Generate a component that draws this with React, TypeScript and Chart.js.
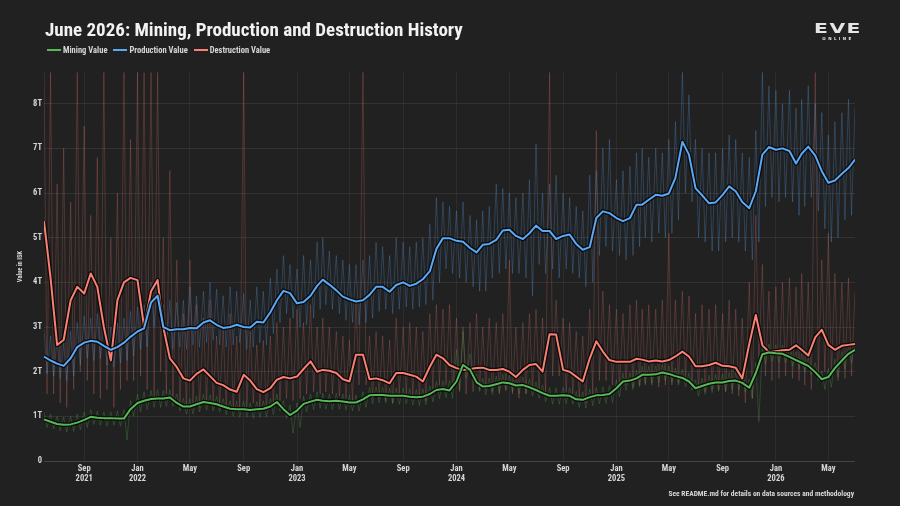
import React, { useEffect, useRef } from "react";
import { Chart, registerables } from "chart.js";

Chart.register(...registerables);

const BG = "#212121";
const FONT = "'Liberation Sans Narrow', 'Roboto Condensed', 'DejaVu Sans Condensed', Roboto, sans-serif";

const MINING_COLOR = "#58b858";
const PRODUCTION_COLOR = "#5ba8f5";
const DESTRUCTION_COLOR = "#fa8072";

const seriesLabels = ["Mining Value", "Production Value", "Destruction Value"];

// x axis ticks
const xTickDates = [
  "2021-09-01", "2022-01-01", "2022-05-01", "2022-09-01", "2023-01-01", "2023-05-01", "2023-09-01",
  "2024-01-01", "2024-05-01", "2024-09-01", "2025-01-01", "2025-05-01", "2025-09-01", "2026-01-01", "2026-05-01",
];
const xTickLabels: (string | string[])[] = [
  ["Sep", "2021"], ["Jan", "2022"], "May", "Sep", ["Jan", "2023"], "May", "Sep",
  ["Jan", "2024"], "May", "Sep", ["Jan", "2025"], "May", "Sep", ["Jan", "2026"], "May",
];
const yTickValues = [0, 1, 2, 3, 4, 5, 6, 7, 8];
const yTickLabels = ["0", "1T", "2T", "3T", "4T", "5T", "6T", "7T", "8T"];

const rangeStart = "2021-06-01";
const rangeEnd = "2026-07-01";

// Sampled on the 1st and 16th of every month, Jun 2021 .. Jul 2026 (values in trillion ISK)
const miningAvg = [
  0.93, 0.88, 0.83, 0.81, 0.82, 0.86, 0.92, 0.99, 0.97, 0.96,
  0.96, 0.95, 0.95, 1.16, 1.3, 1.35, 1.39, 1.4, 1.4, 1.42,
  1.3, 1.22, 1.22, 1.27, 1.32, 1.3, 1.27, 1.22, 1.17, 1.16,
  1.16, 1.14, 1.16, 1.17, 1.22, 1.32, 1.16, 1.03, 1.13, 1.28,
  1.33, 1.37, 1.35, 1.34, 1.35, 1.33, 1.31, 1.31, 1.38, 1.47,
  1.48, 1.48, 1.46, 1.46, 1.46, 1.44, 1.43, 1.44, 1.5, 1.59,
  1.61, 1.58, 1.78, 2.15, 2.04, 1.76, 1.67, 1.68, 1.72, 1.76,
  1.74, 1.69, 1.7, 1.65, 1.59, 1.52, 1.46, 1.46, 1.47, 1.46,
  1.38, 1.37, 1.43, 1.47, 1.48, 1.5, 1.63, 1.78, 1.8, 1.85,
  1.93, 1.93, 1.94, 1.98, 1.95, 1.9, 1.86, 1.78, 1.63, 1.68,
  1.73, 1.76, 1.76, 1.79, 1.8, 1.75, 1.64, 1.97, 2.39, 2.43,
  2.41, 2.4, 2.33, 2.26, 2.2, 2.13, 1.99, 1.83, 1.88, 2.08,
  2.25, 2.4, 2.49,
];
const miningHigh = [
  1.1, 1.05, 1.0, 0.98, 1.0, 1.05, 1.1, 1.15, 1.12, 1.1,
  1.1, 1.12, 1.15, 1.35, 1.5, 1.55, 1.58, 1.6, 1.58, 1.6,
  1.5, 1.4, 1.4, 1.45, 1.5, 1.48, 1.45, 1.4, 1.35, 1.34,
  1.34, 1.3, 1.33, 1.35, 1.4, 1.5, 1.35, 1.25, 1.3, 1.45,
  1.5, 1.55, 1.52, 1.5, 1.52, 1.5, 1.48, 1.48, 1.55, 1.65,
  1.66, 1.65, 1.63, 1.64, 1.63, 1.62, 1.6, 1.62, 1.68, 1.78,
  1.8, 1.8, 2.5, 2.9, 2.4, 1.95, 1.85, 1.86, 1.9, 1.94,
  1.92, 1.87, 1.88, 1.83, 1.77, 1.7, 1.64, 1.64, 1.65, 1.64,
  1.56, 1.55, 1.61, 1.65, 1.66, 1.68, 1.82, 1.97, 1.98, 2.03,
  2.12, 2.12, 2.13, 2.16, 2.13, 2.08, 2.05, 1.97, 1.82, 1.86,
  1.92, 1.94, 1.95, 1.98, 1.98, 1.93, 1.83, 2.2, 2.6, 2.62,
  2.6, 2.6, 2.52, 2.45, 2.4, 2.32, 2.2, 2.02, 2.07, 2.28,
  2.45, 2.6, 2.68,
];
const miningLow = [
  0.75, 0.72, 0.68, 0.65, 0.66, 0.7, 0.75, 0.82, 0.8, 0.78,
  0.8, 0.78, 0.47, 1.0, 1.1, 1.15, 1.2, 1.2, 1.22, 1.22,
  1.12, 1.05, 1.05, 1.1, 1.14, 1.12, 1.1, 1.04, 1.0, 0.98,
  0.98, 0.96, 0.98, 0.99, 1.04, 1.12, 0.95, 0.62, 0.75, 1.1,
  1.15, 1.18, 1.16, 1.15, 1.16, 1.14, 1.12, 1.12, 1.2, 1.28,
  1.3, 1.3, 1.28, 1.27, 1.28, 1.25, 1.24, 1.26, 1.32, 1.4,
  1.42, 1.4, 1.6, 1.85, 1.8, 1.56, 1.48, 1.49, 1.53, 1.57,
  1.55, 1.5, 1.51, 1.46, 1.4, 1.33, 1.27, 1.27, 1.28, 1.27,
  1.2, 1.18, 1.24, 1.28, 1.29, 1.31, 1.44, 1.58, 1.6, 1.66,
  1.74, 1.74, 1.75, 1.8, 1.76, 1.7, 1.66, 1.58, 1.45, 1.49,
  1.53, 1.56, 1.56, 1.6, 1.6, 1.55, 1.4, 0.88, 2.18, 2.23,
  2.21, 2.2, 2.13, 2.06, 2.0, 1.93, 1.8, 1.6, 1.65, 1.88,
  2.05, 2.2, 2.3,
];

const productionAvg = [
  2.34, 2.25, 2.18, 2.13, 2.3, 2.55, 2.65, 2.69, 2.67, 2.58,
  2.49, 2.55, 2.65, 2.78, 2.9, 2.97, 3.55, 3.7, 3.0, 2.93,
  2.95, 2.95, 2.98, 2.97, 3.1, 3.15, 3.05, 2.98, 3.0, 3.05,
  3.0, 2.99, 3.12, 3.1, 3.33, 3.6, 3.81, 3.76, 3.53, 3.56,
  3.7, 3.92, 4.06, 3.95, 3.82, 3.68, 3.62, 3.57, 3.6, 3.72,
  3.9, 3.9, 3.79, 3.94, 4.0, 3.92, 3.97, 4.07, 4.25, 4.75,
  4.99, 4.99, 4.93, 4.91, 4.77, 4.67, 4.84, 4.86, 4.95, 5.16,
  5.18, 5.04, 4.97, 5.1, 5.27, 5.15, 5.15, 4.97, 5.04, 5.07,
  4.86, 4.73, 4.79, 5.44, 5.59, 5.55, 5.44, 5.37, 5.44, 5.74,
  5.74, 5.85, 5.96, 5.94, 5.99, 6.34, 7.15, 6.86, 6.11, 5.95,
  5.77, 5.79, 5.96, 6.15, 6.04, 5.8, 5.66, 6.04, 6.86, 7.03,
  6.97, 7.0, 6.94, 6.66, 6.88, 7.04, 6.84, 6.49, 6.23, 6.28,
  6.43, 6.56, 6.75,
];
const productionHigh = [
  2.95, 2.8, 2.75, 2.65, 2.9, 3.1, 3.25, 3.2, 3.3, 3.1,
  3.0, 3.1, 3.2, 3.35, 3.45, 3.5, 4.0, 4.1, 3.5, 3.6,
  3.55, 3.6, 3.9, 3.7, 3.8, 4.0, 3.85, 3.7, 3.9, 3.8,
  3.75, 3.6, 3.9, 3.8, 4.1, 4.3, 4.6, 4.4, 4.3, 4.6,
  4.5, 4.9, 5.0, 4.7, 4.6, 4.5, 4.4, 4.4, 4.5, 4.6,
  4.9, 4.8, 4.6, 5.0, 4.9, 4.8, 4.9, 5.0, 5.3, 5.9,
  5.8, 5.7, 5.6, 5.8, 5.5, 5.4, 5.6, 5.7, 6.2, 6.1,
  6.0, 5.9, 6.0, 6.3, 7.1, 6.0, 6.2, 6.4, 6.0, 5.9,
  5.7, 5.6, 6.4, 6.5, 7.0, 7.2, 6.3, 6.5, 6.6, 6.9,
  7.0, 6.8, 7.0, 6.9, 7.2, 7.6, 8.7, 8.2, 7.2, 7.0,
  6.9, 6.9, 7.0, 7.3, 7.2, 6.9, 6.8, 7.4, 8.7, 8.4,
  8.3, 8.0, 8.3, 7.9, 8.1, 8.4, 8.0, 7.8, 7.3, 7.6,
  7.8, 8.1, 7.9,
];
const productionLow = [
  1.95, 1.9, 1.85, 1.8, 1.9, 2.15, 2.3, 2.25, 2.3, 2.15,
  2.1, 2.2, 2.25, 2.35, 2.5, 2.55, 3.0, 3.1, 2.55, 2.5,
  2.55, 2.5, 2.6, 2.55, 2.65, 2.7, 2.6, 2.55, 2.6, 2.65,
  2.5, 2.55, 2.65, 2.6, 2.85, 3.1, 3.3, 3.2, 3.0, 3.05,
  3.2, 3.4, 3.5, 3.4, 3.3, 3.15, 3.1, 3.05, 3.1, 3.2,
  3.35, 3.4, 3.3, 3.4, 3.45, 3.4, 3.45, 3.5, 3.6, 4.0,
  4.3, 4.2, 4.1, 4.0, 3.9, 3.8, 3.8, 4.1, 4.2, 4.3,
  4.2, 4.2, 4.1, 3.7, 4.4, 4.2, 4.3, 4.1, 4.3, 4.2,
  4.1, 3.9, 4.0, 4.6, 4.8, 4.7, 4.6, 4.5, 4.6, 4.8,
  5.0, 4.9, 5.1, 5.0, 5.1, 5.4, 6.0, 5.8, 5.0, 4.9,
  4.7, 4.7, 4.9, 5.0, 4.9, 4.7, 4.5, 4.9, 5.7, 5.9,
  5.8, 5.9, 5.8, 5.5, 5.7, 5.9, 5.6, 5.2, 4.9, 5.0,
  5.4, 5.5, 5.7,
];

const destructionAvg = [
  5.37, 4.1, 2.6, 2.71, 3.6, 3.9, 3.75, 4.2, 3.9, 3.0,
  2.25, 3.6, 4.0, 4.1, 4.05, 3.0, 3.8, 4.05, 3.0, 2.3,
  2.1, 1.85, 1.8, 1.95, 2.05, 1.9, 1.75, 1.7, 1.6, 1.55,
  1.93, 1.8, 1.61, 1.54, 1.63, 1.82, 1.88, 1.85, 1.89, 2.06,
  2.23, 2.0, 2.04, 2.02, 1.97, 1.83, 1.78, 2.38, 2.38, 1.83,
  1.85, 1.81, 1.74, 1.97, 1.97, 1.93, 1.89, 1.78, 2.11, 2.38,
  2.3, 2.15, 2.08, 2.04, 2.06, 2.08, 2.09, 2.04, 2.04, 2.06,
  2.0, 1.88, 2.04, 2.15, 2.17, 2.0, 2.84, 2.83, 2.04, 2.0,
  1.89, 1.78, 2.3, 2.68, 2.45, 2.26, 2.22, 2.22, 2.22, 2.29,
  2.27, 2.23, 2.25, 2.23, 2.26, 2.34, 2.45, 2.34, 2.12, 2.12,
  2.15, 2.2, 2.13, 2.12, 2.09, 1.85, 2.62, 3.27, 2.59, 2.44,
  2.46, 2.48, 2.49, 2.59, 2.49, 2.36, 2.77, 2.94, 2.6, 2.49,
  2.58, 2.6, 2.62,
];
const destructionHigh = [
  8.7, 8.7, 6.2, 7.0, 5.8, 8.7, 7.5, 5.5, 6.8, 8.7,
  5.0, 6.0, 8.7, 7.2, 8.7, 8.7, 8.7, 8.7, 5.0, 6.5,
  4.5, 3.3, 4.5, 3.5, 3.2, 3.6, 2.8, 3.0, 3.3, 2.8,
  8.7, 2.9, 2.6, 2.7, 2.8, 3.1, 3.0, 3.2, 3.4, 3.1,
  3.5, 3.0, 3.2, 3.0, 2.9, 2.8, 2.7, 3.6, 8.7, 2.8,
  2.9, 2.8, 2.7, 3.2, 3.0, 3.1, 3.0, 2.9, 3.3, 3.5,
  3.4, 3.5, 3.2, 3.0, 3.1, 3.3, 3.0, 3.2, 3.1, 3.3,
  4.5, 3.0, 3.1, 3.3, 3.4, 3.2, 8.7, 3.6, 3.2, 3.1,
  2.9, 2.8, 3.4, 7.4, 3.8, 3.5, 3.4, 3.3, 3.5, 3.6,
  3.4, 3.5, 3.4, 3.6, 5.1, 3.6, 3.8, 3.7, 3.3, 3.5,
  3.4, 3.5, 3.3, 3.6, 3.4, 3.2, 4.0, 5.5, 4.4, 3.8,
  3.9, 4.0, 4.1, 3.9, 4.2, 4.0, 8.7, 4.5, 5.1, 4.2,
  4.0, 4.1, 3.8,
];
const destructionLow = [
  1.5, 1.5, 1.3, 1.2, 1.6, 2.0, 1.8, 1.5, 1.4, 1.6,
  1.2, 1.6, 1.8, 1.8, 1.9, 1.6, 1.4, 2.0, 1.5, 1.4,
  1.3, 1.2, 1.3, 1.2, 1.3, 1.3, 1.25, 1.2, 1.15, 1.1,
  1.2, 1.3, 1.2, 1.15, 1.25, 1.35, 1.4, 1.35, 1.4, 1.5,
  1.55, 1.5, 1.55, 1.5, 1.45, 1.4, 1.35, 1.7, 1.7, 1.4,
  1.4, 1.35, 1.3, 1.5, 1.5, 1.45, 1.4, 1.35, 1.6, 1.7,
  1.7, 1.6, 1.55, 1.5, 1.55, 1.6, 1.6, 1.55, 1.5, 1.6,
  1.5, 1.4, 1.5, 1.6, 1.6, 1.5, 1.9, 1.9, 1.55, 1.5,
  1.4, 1.3, 1.5, 1.8, 1.8, 1.7, 1.65, 1.7, 1.65, 1.7,
  1.7, 1.7, 1.65, 1.7, 1.7, 1.75, 1.8, 1.7, 1.6, 1.55,
  1.6, 1.6, 1.55, 1.5, 1.45, 1.3, 1.4, 2.2, 1.9, 1.8,
  1.85, 1.9, 1.85, 1.8, 1.7, 1.6, 1.9, 2.0, 1.9, 1.8,
  1.85, 1.9, 1.95,
];

// ---------- helpers ----------
const DAY_MS = 86400000;
function parseDate(s: string) {
  const [y, m, d] = s.split("-").map(Number);
  return Date.UTC(y, m - 1, d);
}
const ORIGIN = parseDate(rangeStart);
const toDay = (s: string) => (parseDate(s) - ORIGIN) / DAY_MS;

// sample dates: 1st and 16th of every month starting at rangeStart
const sampleDays: number[] = miningAvg.map((_, k) => {
  const mIdx = 5 + Math.floor(k / 2);
  const y = 2021 + Math.floor(mIdx / 12);
  const m = mIdx % 12;
  return (Date.UTC(y, m, k % 2 ? 16 : 1) - ORIGIN) / DAY_MS;
});

const smooth = (vals: number[]) => vals.map((v, k) => ({ x: sampleDays[k], y: v }));
const daily = (hi: number[], lo: number[]) => {
  const out: { x: number; y: number }[] = [];
  hi.forEach((h, k) => {
    out.push({ x: sampleDays[k], y: h });
    out.push({ x: sampleDays[k] + 7, y: lo[k] });
  });
  return out;
};

const withAlpha = (hex: string, a: number) => {
  const n = parseInt(hex.slice(1), 16);
  return `rgba(${(n >> 16) & 255},${(n >> 8) & 255},${n & 255},${a})`;
};

const series = [
  { label: seriesLabels[0], color: MINING_COLOR, avg: miningAvg, hi: miningHigh, lo: miningLow },
  { label: seriesLabels[1], color: PRODUCTION_COLOR, avg: productionAvg, hi: productionHigh, lo: productionLow },
  { label: seriesLabels[2], color: DESTRUCTION_COLOR, avg: destructionAvg, hi: destructionHigh, lo: destructionLow },
];

function buildDatasets() {
  const ds: any[] = [];
  series.forEach((s, i) => {
    ds.push({
      label: s.label,
      data: smooth(s.avg),
      borderColor: s.color,
      backgroundColor: s.color,
      borderWidth: 2,
      pointRadius: 0,
      borderJoinStyle: "round",
      order: i * 2,
    });
    ds.push({
      label: s.label + " outline",
      data: smooth(s.avg),
      borderColor: "rgba(0,0,0,0.8)",
      borderWidth: 4.5,
      pointRadius: 0,
      borderJoinStyle: "round",
      order: i * 2 + 1,
    });
  });
  series.forEach((s, i) => {
    ds.push({
      label: s.label + " daily",
      data: daily(s.hi, s.lo),
      borderColor: withAlpha(s.color, i === 2 ? 0.22 : 0.25),
      borderWidth: 1,
      pointRadius: 0,
      order: 10 + i,
    });
  });
  return ds;
}

const TICK_COLOR = "#d6d6d6";

export default function App() {
  const ref = useRef<HTMLCanvasElement>(null);
  useEffect(() => {
    document.body.style.margin = "0";
    document.body.style.background = BG;
    const chart = new Chart(ref.current as HTMLCanvasElement, {
      type: "line",
      data: { datasets: buildDatasets() },
      options: {
        animation: false,
        responsive: false,
        devicePixelRatio: 1,
        layout: { padding: { left: 0, right: 45, top: 72, bottom: 0 } },
        plugins: { legend: { display: false }, tooltip: { enabled: false }, title: { display: false } },
        elements: { point: { radius: 0 }, line: { tension: 0 } },
        scales: {
          x: {
            type: "linear",
            min: 0,
            max: toDay(rangeEnd),
            afterFit: (s: any) => {
              s.height = 45;
            },
            afterBuildTicks: (s: any) => {
              s.ticks = xTickDates.map((d) => ({ value: toDay(d) }));
            },
            ticks: {
              autoSkip: false,
              maxRotation: 0,
              color: TICK_COLOR,
              padding: 3,
              font: { family: FONT, size: 8.5, weight: "bold", lineHeight: 1.2 },
              callback: (_v: any, i: number) => xTickLabels[i],
            },
            grid: { color: "#2d2d2d", drawTicks: false },
            border: { display: false },
          },
          y: {
            type: "linear",
            min: 0,
            max: 8.71,
            afterFit: (s: any) => {
              s.width = 44;
            },
            afterBuildTicks: (s: any) => {
              s.ticks = yTickValues.map((v) => ({ value: v }));
            },
            ticks: {
              color: TICK_COLOR,
              padding: 2,
              font: { family: FONT, size: 8.5, weight: "bold" },
              callback: (_v: any, i: number) => yTickLabels[i],
            },
            grid: {
              color: (c: any) => (c.tick && c.tick.value === 0 ? "#444444" : "#323232"),
              drawTicks: false,
            },
            border: { display: false },
            title: {
              display: true,
              text: "Value in ISK",
              color: TICK_COLOR,
              font: { family: FONT, size: 6.5, weight: "bold" },
              padding: { top: 16, bottom: 0 },
            },
          },
        },
      },
    } as any);
    return () => chart.destroy();
  }, []);

  return (
    <div
      style={{
        position: "fixed",
        left: 0,
        top: 0,
        width: 900,
        height: 506,
        background: BG,
        overflow: "hidden",
        fontFamily: FONT,
      }}
    >
      <canvas ref={ref} width={900} height={506} style={{ position: "absolute", left: 0, top: 0, width: 900, height: 506 }} />
      <div
        style={{
          position: "absolute",
          left: 45,
          top: 19,
          fontSize: 19,
          fontWeight: 700,
          color: "#f2f2f2",
          lineHeight: "22px",
          whiteSpace: "nowrap",
        }}
      >
        June 2026: Mining, Production and Destruction History
      </div>
      <div
        style={{
          position: "absolute",
          left: 47,
          top: 44,
          height: 11,
          display: "flex",
          alignItems: "center",
          gap: 6,
          fontSize: 8.5,
          fontWeight: 700,
          color: "#d6d6d6",
          whiteSpace: "nowrap",
        }}
      >
        {series.map((s) => (
          <div key={s.label} style={{ display: "flex", alignItems: "center", gap: 2 }}>
            <span style={{ display: "inline-block", width: 14, height: 2, background: s.color }} />
            <span>{s.label}</span>
          </div>
        ))}
      </div>
      <div style={{ position: "absolute", left: 808, top: 21, width: 60, textAlign: "center", color: "#e6e6e6" }}>
        <div
          style={{
            fontFamily: "'DejaVu Sans', sans-serif",
            fontSize: 14,
            fontWeight: 900,
            lineHeight: "14px",
            letterSpacing: 1,
            transform: "scaleX(1.45)",
          }}
        >
          EVE
        </div>
        <div style={{ fontFamily: "'DejaVu Sans', sans-serif", fontSize: 4, lineHeight: "6px", letterSpacing: 2.4, fontWeight: 700, marginTop: 1 }}>
          ONLINE
        </div>
      </div>
      <div
        style={{
          position: "absolute",
          right: 46,
          top: 489,
          fontSize: 7.5,
          fontWeight: 700,
          color: "#d6d6d6",
          whiteSpace: "nowrap",
        }}
      >
        See README.md for details on data sources and methodology
      </div>
    </div>
  );
}
